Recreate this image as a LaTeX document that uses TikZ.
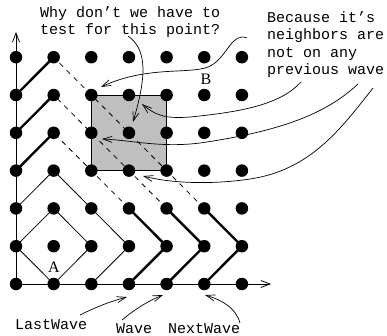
\documentclass[tikz,border=0pt]{standalone}
\usepackage{fontspec}
\newfontfamily\monofont{Liberation Mono}
\newfontfamily\seriffont{Liberation Serif}
\usetikzlibrary{arrows.meta}
\begin{document}
\begin{tikzpicture}[x=1pt,y=-1pt,
  dot/.style={circle,fill=black,inner sep=0pt,minimum size=12.5pt},
  thinwave/.style={line width=0.8pt},
  thickwave/.style={line width=2.4pt,line cap=round},
  dashwave/.style={line width=0.8pt,dash pattern=on 5pt off 5pt},
  axis/.style={line width=0.8pt,-{Straight Barb[length=9pt,width=7pt]}},
  callout/.style={line width=0.7pt,-{Straight Barb[length=9pt,width=6pt]}},
  lbl/.style={font=\monofont\fontsize{15}{17}\selectfont,inner sep=0pt,anchor=base west},
  big/.style={font=\seriffont\fontsize{16}{18}\selectfont,inner sep=0pt}
]
\useasboundingbox (0,0) rectangle (387,335);
\foreach \i in {0,...,6}{\foreach \j in {0,...,6}{\coordinate (c\i\j) at ({16+37.65*\i},{284-37.8*\j});}}
% axes
\coordinate (ytop) at (16,32);
\coordinate (xend) at (271,284);
\draw[axis] (c00) -- (ytop);
\draw[axis] (c00) -- (xend);
% grey square
\filldraw[fill=gray!50,draw=black,line width=0.8pt] (c25) rectangle (c43);
% waves
\draw[thinwave] (c01) -- (c12) -- (c21) -- (c10) -- cycle;
\draw[thinwave] (c02) -- (c13) -- (c22) -- (c31) -- (c20);
\draw[thickwave] (c30) -- (c41) -- (c32);
\draw[dashwave] (c32) -- (c14);
\draw[thickwave] (c14) -- (c03);
\draw[thickwave] (c40) -- (c51) -- (c42);
\draw[dashwave] (c42) -- (c15);
\draw[thickwave] (c15) -- (c04);
\draw[thickwave] (c50) -- (c61) -- (c52);
\draw[dashwave] (c52) -- (c16);
\draw[thickwave] (c16) -- (c05);
% dots
\foreach \i in {0,...,6}{\foreach \j in {0,...,6}{\node[dot] (d\i\j) at (c\i\j) {};}}
% labels
\node[big] (A) at (54,267) {A};
\node[big] (B) at (206,79) {B};
\node[lbl] (q1) at (40,17.5) {Why don’t we have to};
\node[lbl] (q2) at (40,34) {test for this point?};
\node[lbl] (r1) at (267,22) {Because it’s};
\node[lbl] (r2) at (267,39.5) {neighbors are};
\node[lbl] (r3) at (267,57) {not on any};
\node[lbl] (r4) at (267,74.5) {previous wave};
\node[lbl] (lw) at (15,329) {LastWave};
\node[lbl] (w) at (116,333) {Wave};
\node[lbl] (nw) at (168,333) {NextWave};
% callouts
\coordinate (qs) at (128,36); \coordinate (qt) at (133,122);
\draw[callout] (qs) .. controls (148,50) and (146,78) .. (qt);
\coordinate (as) at (247,38); \coordinate (am) at (212,65); \coordinate (at) at (101,87);
\draw[callout] (as) .. controls (232,32) and (228,55) .. (am) .. controls (195,76) and (150,64) .. (at);
\coordinate (bs) at (301,82); \coordinate (bm) at (190,117); \coordinate (bt) at (142,104);
\draw[callout] (bs) .. controls (280,105) and (240,112) .. (bm) .. controls (165,119) and (155,115) .. (bt);
\coordinate (cs) at (358,84); \coordinate (cm) at (200,143); \coordinate (ct) at (102,139);
\draw[callout] (cs) .. controls (330,110) and (290,130) .. (cm) .. controls (160,148) and (130,140) .. (ct);
\coordinate (ds) at (373,88); \coordinate (dm) at (250,179); \coordinate (dt) at (143,176);
\draw[callout] (ds) .. controls (340,130) and (310,170) .. (dm) .. controls (210,185) and (170,183) .. (dt);
\coordinate (lws) at (80,315); \coordinate (lwt) at (127,297);
\draw[callout] (lws) .. controls (98,306) and (112,301) .. (lwt);
\coordinate (ws) at (122,320); \coordinate (wt) at (163,295);
\draw[callout] (ws) .. controls (135,309) and (150,300) .. (wt);
\coordinate (nws) at (240,323); \coordinate (nwt) at (205,295);
\draw[callout] (nws) .. controls (236,308) and (222,300) .. (nwt);
\end{tikzpicture}
\end{document}
